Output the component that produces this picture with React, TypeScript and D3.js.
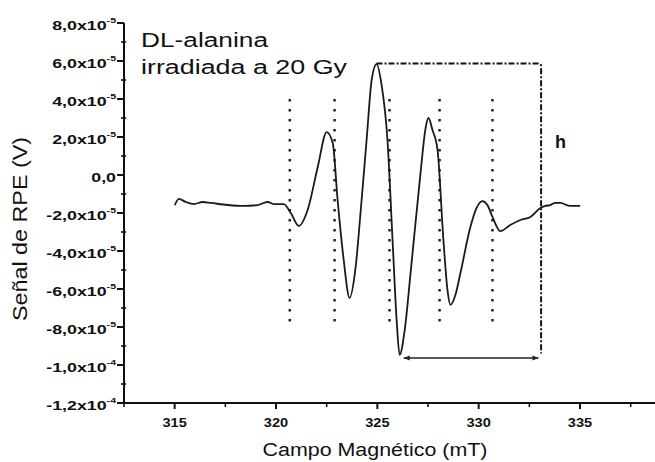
import React from "react";
import * as d3 from "d3";

// Magnetic field (mT) and EPR signal (units of 1e-5 V)
const fieldMT = [
  315.01, 315.21, 315.55, 315.95, 316.39, 316.79, 317.62, 318.41, 319.1, 319.59, 319.89, 320.38,
  320.73, 321.12, 321.56, 322.06, 322.5, 322.8, 323.04, 323.34, 323.63, 323.93, 324.17, 324.47,
  324.72, 324.96, 325.21, 325.5, 325.75, 325.95, 326.1, 326.35, 326.64, 327.13, 327.38, 327.52,
  327.72, 327.97, 328.26, 328.46, 328.61, 328.85, 329.1, 329.59, 329.89, 330.18, 330.43, 330.68,
  331.07, 331.56, 332.06, 332.55, 333.04, 333.29, 333.53, 333.78, 334.03, 334.52, 335.01,
];
const signal = [
  -1.58, -1.26, -1.42, -1.53, -1.42, -1.47, -1.58, -1.63, -1.58, -1.42, -1.53, -1.53,
  -2.0, -2.68, -1.84, 0.42, 2.26, 1.68, -1.32, -4.47, -6.47, -4.84, -2.0, 1.84,
  5.0, 5.84, 4.74, 1.84, -3.42, -7.6, -9.47, -8.16, -5.16, 0.1, 2.47, 3.0,
  2.37, 1.32, -3.42, -6.05, -6.84, -6.32, -5.16, -2.74, -1.74, -1.37, -1.58, -2.21,
  -2.95, -2.63, -2.37, -2.21, -1.74, -1.63, -1.58, -1.47, -1.47, -1.63, -1.63,
];

const yTickValues = [8, 6, 4, 2, 0, -2, -4, -6, -8, -10, -12];
const yTickMantissa = ["8,0", "6,0", "4,0", "2,0", "0,0", "-2,0", "-4,0", "-6,0", "-8,0", "-1,0", "-1,2"];
const yTickExponent = ["-5", "-5", "-5", "-5", "", "-5", "-5", "-5", "-5", "-4", "-4"];
const xTickValues = [315, 320, 325, 330, 335];
const xMinorValues = [312.5, 317.5, 322.5, 327.5, 332.5, 337.5];

const dottedField = [320.68, 322.89, 325.6, 328.07, 330.68];
const dottedRange = [4, -8];
const boxTop = { x1: 324.96, x2: 333.08, y: 5.87, yBottom: -9.4 };
const arrowLine = { x1: 326.3, x2: 332.95, y: -9.63 };

const titleLines = ["DL-alanina", "irradiada a 20 Gy"];
const xLabel = "Campo Magnético (mT)";
const yLabel = "Señal de RPE (V)";

const FONT = "'Liberation Sans', Arial, sans-serif";

export default function App() {
  const W = 655;
  const H = 462;
  const x = d3.scaleLinear().domain([312.5, 338.7]).range([124, 655]);
  const y = d3.scaleLinear().domain([-12, 8]).range([403, 23]);
  const yMinor = d3.range(-11, 8, 2);

  const line = d3
    .line<number>()
    .x((_, i) => x(fieldMT[i]))
    .y((d) => y(d))
    .curve(d3.curveMonotoneX);

  const axisX = x(312.5);
  const axisY = y(-12);

  return (
    <div style={{ position: "fixed", left: 0, top: 0 }}>
      <svg width={W} height={H} style={{ display: "block", background: "#fff" }} fontFamily={FONT}>
        <rect width={W} height={H} fill="#fff" />
        {/* dotted vertical lines */}
        {dottedField.map((f, i) => (
          <line
            key={"dot" + i}
            x1={x(f)}
            x2={x(f)}
            y1={y(dottedRange[0])}
            y2={y(dottedRange[1])}
            stroke="#222"
            strokeWidth={2.5}
            strokeDasharray="2.5 7.5"
          />
        ))}
        {/* curve */}
        <path d={line(signal) || ""} fill="none" stroke="#1a1a1a" strokeWidth={1.8} strokeLinejoin="round" />
        {/* dash-dot box */}
        <path
          d={`M${x(boxTop.x1)},${y(boxTop.y)} H${x(boxTop.x2) - 3} Q${x(boxTop.x2)},${y(boxTop.y)} ${x(boxTop.x2)},${y(boxTop.y) + 3} V${y(boxTop.yBottom)}`}
          fill="none"
          stroke="#111"
          strokeWidth={2}
          strokeDasharray="6 2 2 2"
        />
        {/* bottom arrow */}
        <line
          x1={x(arrowLine.x1)}
          x2={x(arrowLine.x2)}
          y1={y(arrowLine.y)}
          y2={y(arrowLine.y)}
          stroke="#222"
          strokeWidth={1.6}
        />
        <path d={`M${x(arrowLine.x1)},${y(arrowLine.y)} l6,-2.5 v5 Z`} fill="#222" />
        <path d={`M${x(arrowLine.x2)},${y(arrowLine.y)} l-6,-2.5 v5 Z`} fill="#222" />
        <text x={555} y={148} fontSize={18} fontWeight="bold" fill="#111">
          h
        </text>

        {/* title */}
        <text x={141} y={47} fontSize={20} fill="#111" textLength={127} lengthAdjust="spacingAndGlyphs">
          {titleLines[0]}
        </text>
        <text x={141} y={74} fontSize={20} fill="#111" textLength={206} lengthAdjust="spacingAndGlyphs">
          {titleLines[1]}
        </text>

        {/* y axis */}
        <line x1={axisX} x2={axisX} y1={y(8)} y2={axisY} stroke="#111" strokeWidth={2} />
        {yTickValues.map((v, i) => (
          <g key={"yt" + i}>
            <line x1={axisX - 7} x2={axisX} y1={y(v)} y2={y(v)} stroke="#111" strokeWidth={2} />
            <g transform={`translate(116,${y(v) + 6.5}) scale(1.32,1)`}>
              <text textAnchor="end" fontSize={13.5} fontWeight="bold" fill="#111">
                {yTickMantissa[i] + (yTickExponent[i] ? "x10" : "")}
                {yTickExponent[i] ? (
                  <tspan fontSize={8} dy={-6.5}>
                    {yTickExponent[i]}
                  </tspan>
                ) : null}
              </text>
            </g>
          </g>
        ))}
        {yMinor.map((v) => (
          <line key={"ym" + v} x1={axisX - 3} x2={axisX + 2} y1={y(v)} y2={y(v)} stroke="#111" strokeWidth={1.6} />
        ))}

        {/* x axis */}
        <line x1={axisX - 1} x2={W} y1={axisY} y2={axisY} stroke="#111" strokeWidth={2.2} />
        {xTickValues.map((v) => (
          <g key={"xt" + v}>
            <line x1={x(v)} x2={x(v)} y1={axisY} y2={axisY + 6} stroke="#111" strokeWidth={2} />
            <g transform={`translate(${x(v)},427) scale(1.08,1)`}>
              <text textAnchor="middle" fontSize={13.5} fontWeight="bold" fill="#111">
                {v}
              </text>
            </g>
          </g>
        ))}
        {xMinorValues.map((v) => (
          <line key={"xm" + v} x1={x(v)} x2={x(v)} y1={axisY} y2={axisY + 4} stroke="#111" strokeWidth={1.6} />
        ))}

        {/* axis labels */}
        <text
          x={375}
          y={456}
          textAnchor="middle"
          fontSize={18}
          fill="#111"
          textLength={225}
          lengthAdjust="spacingAndGlyphs"
        >
          {xLabel}
        </text>
        <text
          transform="translate(27,229) rotate(-90)"
          textAnchor="middle"
          fontSize={20}
          fill="#111"
          textLength={184}
          lengthAdjust="spacingAndGlyphs"
        >
          {yLabel}
        </text>
      </svg>
    </div>
  );
}
